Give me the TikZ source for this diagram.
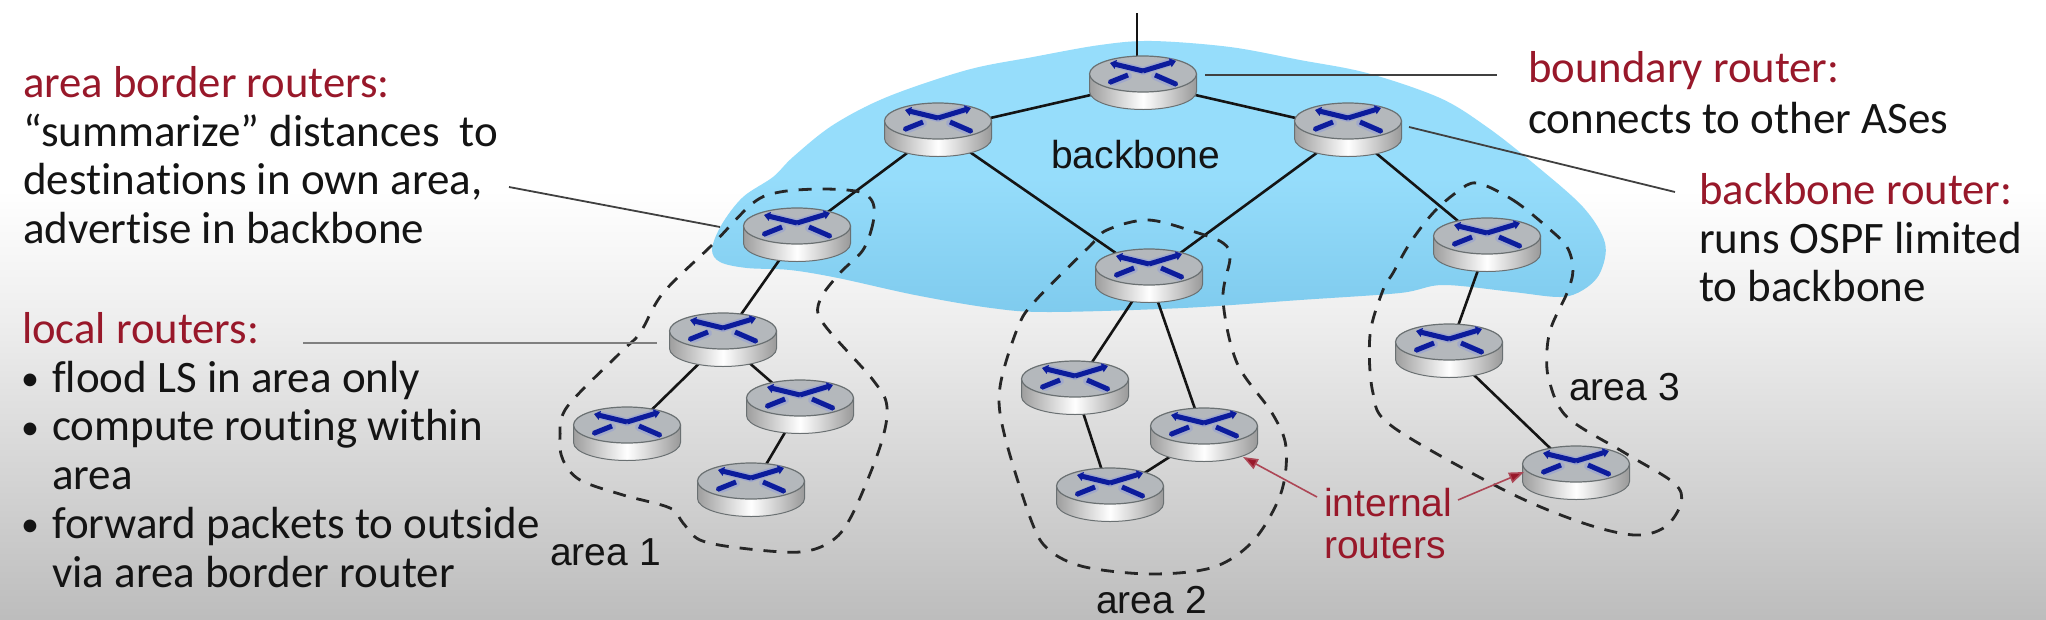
\documentclass[tikz,border=0pt]{standalone}
\usepackage{fontspec}
\setmainfont{Carlito}[Ligatures=NoCommon]
\newfontfamily\arialf{Liberation Sans}
\usetikzlibrary{arrows.meta}
\definecolor{cloudtop}{HTML}{96DDFB}
\definecolor{cloudbot}{HTML}{7FCBEE}
\definecolor{redtxt}{HTML}{98182A}
\definecolor{inktxt}{HTML}{141414}
\definecolor{xblue}{HTML}{0C1C9C}
\definecolor{xhalo}{HTML}{8F9BD8}
\definecolor{rimc}{HTML}{6A7072}
\definecolor{topc}{HTML}{B4B8BC}
\tikzset{
  rpt/.style={circle,inner sep=0pt,minimum size=0pt,draw=none},
  linkline/.style={line width=2.6pt,draw=inktxt},
  calloutline/.style={line width=1.8pt,draw=black!75},
  arealine/.style={line width=2.8pt,draw=black!85,dash pattern=on 13pt off 11pt},
  redarrow/.style={line width=1.6pt,draw=redtxt!80,-{Triangle[length=15pt,width=11pt,fill=redtxt]}},
  bodytxt/.style={anchor=north west,inner sep=0pt,align=left,text=inktxt,font=\fontsize{45}{48.8}\selectfont},
  arialtxt/.style={anchor=base west,inner sep=0pt,text=inktxt,font=\arialf\fontsize{39}{42}\selectfont},
  arialred/.style={anchor=north west,inner sep=0pt,align=left,text=redtxt,font=\arialf\fontsize{39}{42}\selectfont},
  xarm/.style={draw=xblue,line width=5pt,-{Triangle[length=6pt,width=9pt]}},
  xhaloarm/.style={draw=xhalo,line width=8pt,opacity=.5,line cap=round}
}
\newcommand{\firstline}{\rule{0pt}{32pt}}
\newcommand{\headtxt}[1]{\textcolor{redtxt}{\fontsize{44.7}{48.8}\selectfont #1}}
\newcommand{\blt}{\makebox[30pt][l]{\hspace*{-1pt}\raisebox{1.5pt}{\fontsize{36}{36}\selectfont •}}}
\newcommand{\routerbody}{%
  \path[left color=black!38,right color=black!40,middle color=white,draw=rimc,line width=1pt]
    (-53.5,-9) -- (-53.5,8.5) arc[start angle=180,end angle=360,x radius=53.5pt,y radius=18pt] -- (53.5,-9) -- cycle;
  \path[fill=topc,draw=rimc,line width=1.2pt] (0,-9) ellipse[x radius=53.5pt,y radius=18pt];
  \path[xhaloarm] (-28,-19) -- (0,-12) -- (28,-21) (-30,-1) -- (-15,-7) (12,-7) -- (30,1);
  \path[xarm] (0,-12) -- (-33,-20);
  \path[xarm] (0,-12) -- (33,-22);
  \path[draw=xblue,line width=5pt,-{Triangle[length=2pt,width=5pt]}] (-15,-8) -- (-35,0);
  \path[draw=xblue,line width=5pt,-{Triangle[length=2pt,width=5pt]}] (12,-8) -- (35,2);
}
\begin{document}
\begin{tikzpicture}[x=1pt,y=-1pt]
\useasboundingbox (0,0) rectangle (2046,619);
% slide background
\fill[white] (0,0) rectangle (2046,619);
\shade[top color=white,bottom color=black!7] (0,190) rectangle (2046,325);
\shade[top color=black!7,bottom color=black!26] (0,324) rectangle (2046,619);
% backbone cloud
\path[top color=cloudtop,bottom color=cloudbot,middle color=cloudtop]
  plot[smooth cycle,tension=.55] coordinates {
   (712,249) (722,224) (743,197) (773,177) (793,157) (833,125) (887,97) (967,70) (1033,57) (1100,45) (1152,41)
   (1230,47) (1300,60) (1367,73) (1440,98) (1487,127) (1533,163) (1583,207) (1605,243) (1600,273) (1583,290) (1560,297)
   (1513,292) (1443,285) (1400,293) (1300,300) (1183,308) (1049,312) (991,308) (915,295)
   (838,278) (790,270) (747,268) (720,262)};
% router nodes
\node[rpt] (r1) at (1143,83) {};
\node[rpt] (r2) at (938,130) {};
\node[rpt] (r3) at (1348,130) {};
\node[rpt] (r4) at (797,235) {};
\node[rpt] (r5) at (723,340) {};
\node[rpt] (r6) at (800,407) {};
\node[rpt] (r7) at (627,434) {};
\node[rpt] (r8) at (751,490) {};
\node[rpt] (r9) at (1149,276) {};
\node[rpt] (r10) at (1075,388) {};
\node[rpt] (r11) at (1204,435) {};
\node[rpt] (r12) at (1110,495) {};
\node[rpt] (r13) at (1487,245) {};
\node[rpt] (r14) at (1449,351) {};
\node[rpt] (r15) at (1576,473) {};
\coordinate (uplink) at (1137,13);
\draw[linkline] (uplink) -- (1137,70);
\foreach \a/\b in {r1/r2,r1/r3,r2/r4,r2/r9,r3/r9,r3/r13,r4/r5,r5/r7,r5/r6,r6/r8,r9/r10,r9/r11,r10/r12,r11/r12,r13/r14,r14/r15}
  \draw[linkline] (\a) -- (\b);
% areas
\draw[arealine] plot[smooth cycle,tension=.55] coordinates {
  (873,203) (873,223) (863,250) (840,273) (820,300) (823,323) (873,380) (887,407) (880,447) (853,513) (833,540)
  (800,552) (740,548) (700,540) (683,523) (670,508) (623,495) (580,480) (563,460) (560,437) (567,407) (620,353)
  (640,333) (663,293) (712,245) (753,203) (780,192) (823,189) (860,192)};
\draw[arealine] plot[smooth cycle,tension=.55] coordinates {
  (1148,220) (1195,232) (1223,243) (1230,258) (1223,300) (1237,363) (1272,413) (1286,447) (1281,493) (1254,540) (1214,567)
  (1152,574) (1085,567) (1049,550) (1031,520) (1004,433) (1000,387) (1018,327) (1036,300) (1089,247) (1107,230)};
\draw[arealine] plot[smooth cycle,tension=.55] coordinates {
  (1477,183) (1513,200) (1547,227) (1567,247) (1573,270) (1567,293) (1552,325) (1547,350) (1549,380) (1567,417) (1625,453) (1674,483) (1681,503) (1665,527)
  (1634,535) (1580,522) (1504,490) (1393,427) (1373,393) (1370,335) (1383,290) (1393,273) (1410,243) (1433,213) (1457,192)};
% routers
\foreach \n in {r1,r2,r3,r4,r5,r6,r7,r8,r9,r10,r11,r12,r13,r14,r15}{
  \begin{scope}[shift={(\n)}]\routerbody\end{scope}
}
% texts
\node[bodytxt] (abr) at (23,65) {\firstline\headtxt{area border routers:}\\“summarize” distances~~to\\destinations in own area,\\advertise in backbone};
\node[bodytxt] (lr) at (22,311) {\firstline\headtxt{local routers:}\\\blt flood LS in area only\\\blt compute routing within\\\hspace*{30pt}area\\\blt forward packets to outside\\\hspace*{30pt}via area border router};
\node[bodytxt] (br) at (1528,50) {\firstline\headtxt{boundary router:}\\[2pt]connects to other ASes};
\node[bodytxt] (bbr) at (1699,172) {\firstline\headtxt{backbone router:}\\runs OSPF limited\\to backbone};
\node[arialtxt] (bb) at (1051,168) {backbone};
\node[arialtxt] (a1) at (550,565) {area 1};
\node[arialtxt] (a2) at (1096,613) {area 2};
\node[arialtxt] (a3) at (1569,400) {area 3};
\node[arialred] (ir) at (1324,486) {\rule{0pt}{30pt}internal\\routers};
% callouts
\coordinate (c1a) at (1205,75); \coordinate (c1b) at (1497,75);
\coordinate (c2a) at (1409,127); \coordinate (c2b) at (1675,192);
\coordinate (c3a) at (509,187); \coordinate (c3b) at (720,227);
\coordinate (c4a) at (303,343); \coordinate (c4b) at (657,343);
\coordinate (c5a) at (1317,497); \coordinate (c5b) at (1243,457);
\coordinate (c6a) at (1458,500); \coordinate (c6b) at (1524,472);
\draw[calloutline] (c1a) -- (c1b);
\draw[calloutline] (c2a) -- (c2b);
\draw[calloutline] (c3a) -- (c3b);
\draw[line width=1.4pt,draw=black!50] (c4a) -- (c4b);
\draw[redarrow] (c5a) -- (c5b);
\draw[redarrow] (c6a) -- (c6b);
\end{tikzpicture}
\end{document}
